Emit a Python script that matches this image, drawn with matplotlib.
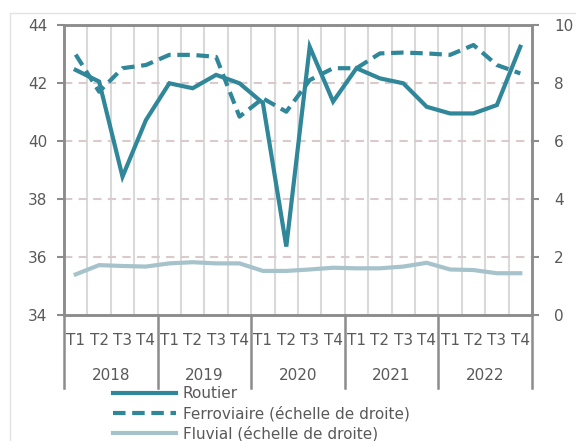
import matplotlib
matplotlib.use("Agg")
import matplotlib.pyplot as plt
import matplotlib.patches as mpatches
from matplotlib.lines import Line2D
import numpy as np

plt.rcParams['font.family'] = ['DejaVu Sans']

years = ['2018', '2019', '2020', '2021', '2022']
quarters = ['T1', 'T2', 'T3', 'T4']

# left axis
routier = [42.45, 42.05, 38.77, 40.72, 41.99, 41.82, 42.28, 41.99, 41.31, 36.36,
           43.25, 41.36, 42.51, 42.16, 41.99, 41.18, 40.95, 40.95, 41.24, 43.25]
# right axis
ferroviaire = [8.98, 7.70, 8.51, 8.62, 8.97, 8.97, 8.90, 6.84, 7.47, 7.01,
               8.10, 8.51, 8.51, 9.02, 9.05, 9.02, 8.97, 9.31, 8.62, 8.33]
fluvial = [1.40, 1.72, 1.69, 1.67, 1.78, 1.82, 1.78, 1.78, 1.52, 1.52,
           1.57, 1.63, 1.61, 1.61, 1.67, 1.80, 1.57, 1.55, 1.44, 1.44]

teal = '#2F8799'
light = '#A6C3CB'
txt = '#595959'
spine = '#8C8C8C'

W, H = 576, 441
fig = plt.figure(figsize=(W / 100, H / 100), dpi=100)
fig.patches.append(mpatches.Rectangle((10 / W, -0.1), 1.2, 1 - 13 / H + 0.1,
                                      transform=fig.transFigure, fill=False,
                                      edgecolor='#E3E3E3', lw=1))

ax = fig.add_axes([64 / W, 1 - 315 / H, (532 - 64) / W, 290 / H])
ax2 = ax.twinx()

n = len(routier)
x = np.arange(n) + 0.5

# grid
for b in range(1, n):
    ax.axvline(b, color='#D9D9D9', lw=1.5, zorder=0)
for v in [36, 38, 40, 42]:
    ax.axhline(v, color='#D9CBCB', lw=1.5, ls=(0, (4, 3)), zorder=0)

ax.plot(x, routier, color=teal, lw=3, solid_joinstyle='miter', label='Routier')
ax2.plot(x, ferroviaire, color=teal, lw=3, ls=(0, (3, 1.6)),
         label='Ferroviaire (échelle de droite)')
ax2.plot(x, fluvial, color=light, lw=3, label='Fluvial (échelle de droite)')

ax.set_xlim(0, n)
ax.set_ylim(34, 44)
ax2.set_ylim(0, 10)
ax.set_yticks(range(34, 45, 2))
ax2.set_yticks(range(0, 11, 2))

for a in (ax, ax2):
    for s in a.spines.values():
        s.set_color(spine)
        s.set_linewidth(1.8)
    a.tick_params(axis='y', colors=spine, labelcolor=txt, labelsize=11,
                  length=5, width=1.5)
ax.yaxis.set_tick_params(pad=7)
ax2.yaxis.set_tick_params(pad=11)

ax.set_xticks(x)
ax.set_xticklabels(quarters * len(years), fontsize=11, color=txt)
ax.tick_params(axis='x', length=0, pad=13)

for i, yr in enumerate(years):
    ax.text(4 * i + 2, -0.207, yr, transform=ax.get_xaxis_transform(),
            ha='center', va='center', fontsize=11, color=txt)
for b in range(0, n + 1, 4):
    ax.add_line(Line2D([b, b], [0, -0.25], transform=ax.get_xaxis_transform(),
                       color=spine, lw=1.8, clip_on=False))

h1, l1 = ax.get_legend_handles_labels()
h2, l2 = ax2.get_legend_handles_labels()
leg = fig.legend(h1 + h2, l1 + l2, loc='upper left',
                 bbox_to_anchor=(113 / W, 1 - 386 / H), frameon=False,
                 fontsize=11, handlelength=4.1, handletextpad=0.45,
                 labelspacing=0.3, borderaxespad=0, borderpad=0)
for t in leg.get_texts():
    t.set_color(txt)

fig.savefig('out.png', dpi=100)
